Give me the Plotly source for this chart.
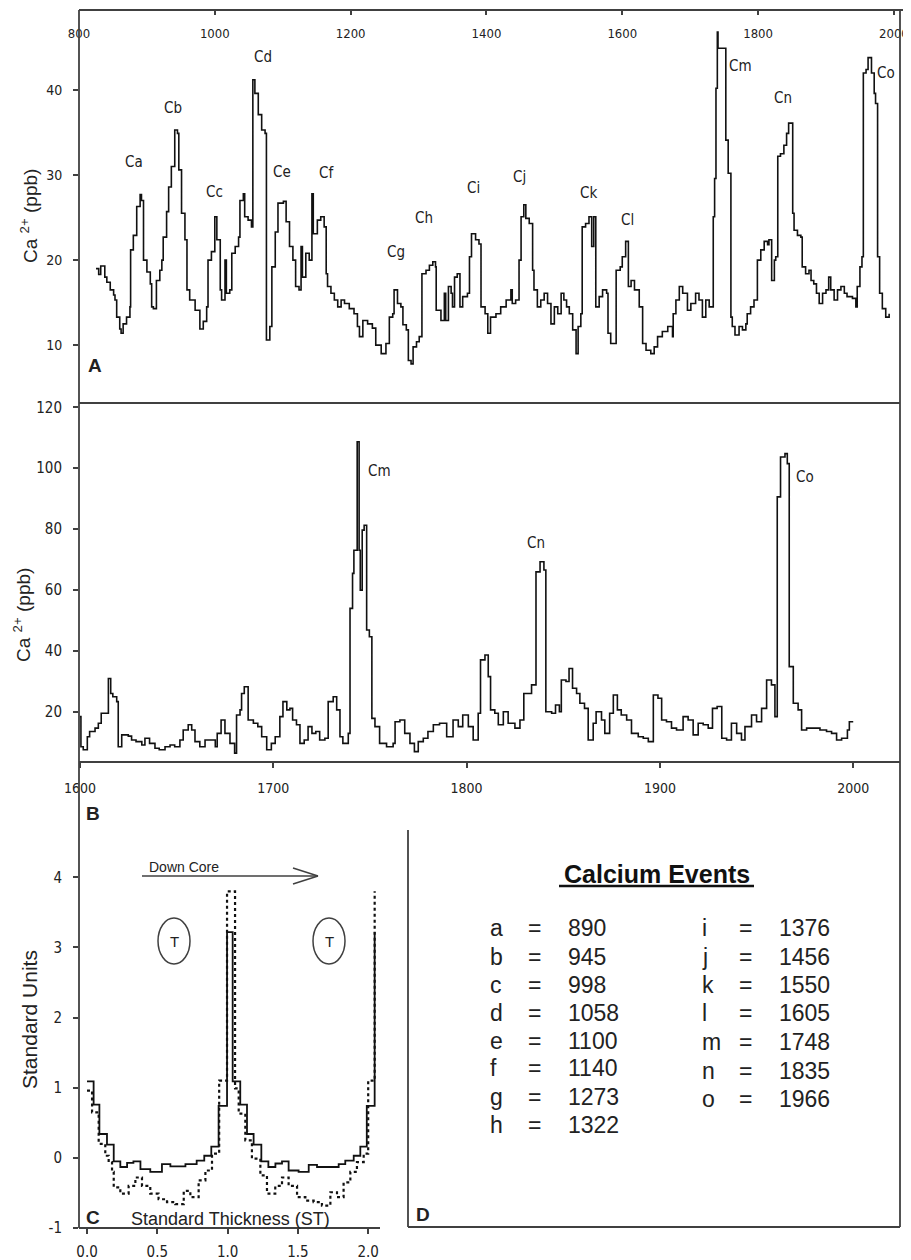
import plotly.graph_objects as go

# ---------------- Panel A data (year, Ca2+ ppb) ----------------
a_years = [825, 829, 832, 838, 841, 846, 851, 853, 855.5, 860, 862, 865, 870, 875, 876, 880, 885, 890, 892, 895,
           900, 905, 907, 909.5, 914, 919, 922, 924, 929, 932, 936, 941, 945, 947, 951, 956, 959, 963, 971, 978,
           983, 988, 990, 995, 1000, 1003, 1008, 1010, 1015, 1017, 1022, 1025, 1030, 1035, 1037, 1042, 1044, 1049,
           1054, 1056, 1059, 1064, 1069, 1074, 1076, 1081, 1084, 1089, 1093, 1101, 1105, 1110, 1115, 1119, 1124,
           1127, 1129, 1134, 1139, 1143, 1145, 1151, 1156, 1161, 1164, 1166, 1171, 1176, 1181, 1186, 1191, 1198,
           1205, 1210, 1213, 1218, 1225, 1232, 1237, 1245, 1252, 1257, 1262, 1264, 1269, 1274, 1277, 1282, 1285,
           1289, 1292, 1297, 1301, 1305, 1311, 1316, 1321, 1325, 1326, 1333, 1338, 1340, 1344, 1348, 1350, 1353,
           1357, 1361, 1365, 1372, 1375, 1378, 1384, 1389, 1392, 1398, 1402, 1406, 1414, 1421, 1429, 1436, 1438,
           1443, 1448, 1451, 1455, 1458, 1463, 1468, 1470, 1475, 1480, 1485, 1490, 1495, 1500, 1505, 1510, 1514,
           1518, 1522, 1527, 1532, 1535, 1539, 1541, 1546, 1551, 1555, 1558, 1561, 1566, 1571, 1577, 1579, 1583,
           1591, 1597, 1600, 1605, 1609, 1613, 1618, 1625, 1630, 1635, 1642, 1647, 1652, 1659, 1667, 1674, 1675,
           1679, 1684, 1689, 1696, 1701, 1708, 1713, 1718, 1723, 1728, 1733, 1734, 1736, 1738, 1740, 1741, 1744,
           1752.5, 1756, 1760, 1762, 1766, 1772, 1777, 1782, 1784, 1789, 1794, 1799, 1804, 1809, 1814, 1816, 1820,
           1824, 1826, 1829, 1833, 1838, 1842, 1845, 1851, 1853, 1858, 1863, 1865, 1870, 1875, 1878, 1882, 1886,
           1890, 1895, 1900, 1904, 1907, 1912, 1917, 1922, 1927, 1931, 1939, 1944, 1946, 1950, 1953, 1955, 1959,
           1962, 1967, 1971, 1973, 1976, 1979, 1983, 1988, 1993]
a_values = [19.0, 18.3, 19.3, 18.0, 17.4, 16.5, 15.9, 15.3, 13.3, 11.9, 11.4, 12.5, 13.3, 14.5, 21.2, 22.9, 26.3, 27.7, 27.0, 20.0,
            18.6, 17.2, 14.5, 14.3, 17.6, 18.8, 20.0, 22.7, 25.7, 28.6, 31.0, 35.3, 34.9, 30.6, 25.5, 22.4, 16.5, 15.3, 14.1, 11.9,
            12.8, 14.5, 20.0, 21.0, 25.1, 22.4, 16.5, 15.3, 20.0, 16.1, 16.5, 20.8, 21.6, 22.7, 27.0, 27.8, 25.1, 24.7,
            23.9, 41.2, 39.6, 37.1, 35.3, 34.9, 10.6, 12.2, 19.2, 23.3, 26.7, 26.9, 24.5, 21.6, 20.0, 16.9, 16.5,
            21.6, 18.0, 20.8, 20.0, 27.8, 23.1, 24.7, 25.1, 23.9, 18.4, 16.9, 16.1, 15.3, 14.5, 15.3, 14.9, 14.3,
            13.7, 12.2, 11.0, 12.9, 12.5, 12.0, 10.0, 9.0, 10.2, 13.3, 13.7, 16.5, 14.9, 14.5, 12.4, 11.8, 8.2,
            7.8, 9.8, 10.4, 11.0, 18.4, 18.8, 19.4, 19.8, 19.2, 14.1, 12.9, 16.1, 12.9, 16.9, 16.1, 14.5, 18.0,
            18.4, 14.5, 15.7, 16.1, 20.4, 23.1, 22.4, 21.9, 14.5, 13.7, 11.4, 13.3, 13.7, 14.5, 15.3, 16.5, 14.9,
            15.3, 20.0, 25.1, 26.5, 24.9, 24.3, 18.8, 16.5, 14.5, 15.3, 16.1, 14.9, 12.5, 14.5, 13.7, 16.1, 15.3,
            14.5, 13.7, 11.8, 9.0, 12.2, 13.7, 23.9, 24.3, 25.1, 21.6, 25.1, 14.5, 15.7, 16.5, 16.1, 11.4, 10.2,
            18.8, 19.2, 20.4, 22.2, 16.9, 17.6, 16.5, 14.5, 10.2, 9.4, 9.0, 9.8, 11.0, 11.6, 12.2, 11.0, 13.7,
            15.3, 16.9, 16.1, 14.1, 14.9, 16.1, 15.3, 13.3, 15.3, 14.5, 14.5, 25.1, 29.6, 40.2, 46.8, 44.9, 44.9,
            34.1, 30.2, 13.3, 12.2, 11.2, 12.2, 11.8, 12.5, 13.7, 14.5, 15.3, 20.0, 21.2, 22.2, 21.8, 22.4, 17.6,
            20.0, 20.4, 32.2, 32.5, 33.5, 34.9, 36.1, 25.5, 23.5, 22.9, 22.7, 19.2, 18.4, 18.8, 17.6, 17.2, 16.1,
            14.9, 16.1, 16.5, 18.0, 16.5, 15.3, 16.5, 16.9, 16.1, 15.7, 15.5, 14.5, 16.9, 19.2, 20.4, 42.0, 42.4,
            43.8, 42.0, 39.6, 38.4, 20.4, 16.1, 14.3, 13.3, 13.7]

a_label_text = ["Ca", "Cb", "Cc", "Cd", "Ce", "Cf", "Cg", "Ch", "Ci", "Cj", "Ck", "Cl", "Cm", "Cn", "Co"]
a_label_x = [881, 938, 999, 1071, 1099, 1165, 1267, 1308, 1381, 1449, 1551, 1607, 1774, 1836, 1988]
a_label_y = [31.5, 37.9, 28.0, 43.9, 30.4, 30.2, 20.9, 24.9, 28.5, 29.8, 27.9, 24.7, 42.8, 39.1, 42.0]
a_xticks = [800, 1000, 1200, 1400, 1600, 1800, 2000]
a_yticks = [10, 20, 30, 40]

# ---------------- Panel B data ----------------
b_years = [1600, 1600.5, 1601.7, 1603.8, 1605, 1607.8, 1609.5, 1611, 1614.7, 1615.9, 1617, 1619, 1619.8, 1621.6,
           1625, 1626.7, 1629, 1632, 1633.6, 1636, 1638.8, 1641, 1644, 1646.6, 1649, 1651.7, 1653.4, 1656, 1657.8,
           1659.5, 1662, 1664.7, 1670, 1671, 1673, 1675, 1677.6, 1680, 1681, 1682.8, 1683.6, 1685, 1687, 1689.7,
           1692, 1694, 1696.6, 1699, 1701, 1703.4, 1705, 1707, 1708.6, 1710, 1712, 1713.8, 1716, 1718, 1720, 1722,
           1724, 1726.7, 1728.4, 1731, 1732.8, 1734.5, 1736, 1738.8, 1739.7, 1741, 1741.7, 1743.4, 1744.4, 1745,
           1746, 1747, 1748.3, 1749.7, 1751, 1752.6, 1755, 1758.6, 1762, 1763, 1765.5, 1768, 1770.7, 1773, 1775,
           1777.6, 1780, 1782.8, 1786, 1789.7, 1793, 1795.7, 1798, 1800.9, 1803.4, 1806, 1807.2, 1809.5, 1811.2,
           1812.4, 1814.6, 1816.4, 1819, 1821.5, 1825, 1827.6, 1829.6, 1833.6, 1835.9, 1838, 1840, 1841, 1844,
           1846, 1848, 1849, 1851.4, 1853, 1854.8, 1856.9, 1858.6, 1861, 1862.9, 1865.5, 1867, 1869.8, 1871.5,
           1874, 1875.9, 1878, 1880, 1882.8, 1885.3, 1888.8, 1891.4, 1894, 1896.6, 1899, 1900.9, 1903.4, 1906,
           1908.6, 1912, 1914.6, 1917.2, 1919.8, 1922.4, 1925, 1927.2, 1929.6, 1932, 1934.5, 1937, 1939.7, 1942.2,
           1944, 1947.4, 1950, 1952.6, 1955.2, 1957.7, 1959.5, 1960.7, 1962.4, 1964.7, 1965.9, 1966.9, 1969,
           1971.5, 1973.3, 1975.9, 1979.3, 1982.8, 1986.2, 1988.8, 1991.4, 1994, 1997, 1998, 2000]
b_values = [18.5, 8.6, 7.6, 11.9, 13.6, 14.7, 16.3, 19.6, 31.0, 26.1, 25.0, 23.4, 8.6, 12.5,
            12.1, 10.8, 10.3, 9.2, 11.4, 9.7, 8.1, 7.6, 8.6, 9.2, 8.6, 10.8, 14.1, 15.8, 14.1,
            10.3, 8.6, 10.8, 8.6, 13.0, 17.4, 13.0, 9.7, 6.5, 19.0, 20.7, 26.1, 28.3, 17.4, 16.3,
            15.2, 11.9, 7.6, 9.7, 11.9, 18.5, 23.4, 20.7, 21.2, 17.4, 15.8, 9.7, 10.8, 15.2, 13.0, 13.6,
            10.8, 11.4, 23.4, 25.0, 20.7, 11.9, 9.7, 13.0, 54.0, 65.5, 73.1, 108.7, 73.1, 60.0,
            79.7, 81.3, 46.9, 44.7, 17.9, 15.2, 9.7, 8.6, 9.7, 16.8, 17.4, 13.0, 9.7, 7.0, 10.3,
            11.4, 13.6, 15.8, 16.3, 11.9, 17.4, 15.2, 19.0, 15.2, 10.8, 19.6, 37.1, 38.7, 31.6,
            20.7, 19.6, 15.8, 20.1, 16.3, 14.7, 17.4, 26.1, 28.9, 66.0, 69.3, 66.6, 20.1, 19.6,
            22.3, 20.1, 30.5, 30.0, 34.3, 27.8, 26.1, 22.9, 21.2, 10.8, 16.3, 20.1, 17.4, 13.0,
            19.6, 25.6, 20.7, 19.0, 17.4, 13.0, 11.9, 11.4, 10.3, 25.6, 24.5, 17.4, 16.8, 14.7,
            14.1, 18.5, 17.4, 12.5, 16.3, 15.8, 14.7, 21.2, 21.8, 11.4, 10.8, 16.3, 13.0, 10.8,
            15.2, 19.0, 16.8, 21.2, 30.5, 28.9, 18.5, 90.6, 103.7, 104.8, 101.5, 34.9, 22.9,
            20.7, 14.1, 14.7, 14.7, 14.1, 13.6, 13.0, 10.8, 11.4, 14.1, 16.8, 16.8]
b_label_text = ["Cm", "Cn", "Co"]
b_label_x = [1755, 1836, 1975]
b_label_y = [99, 75.3, 97]
b_xticks = [1600, 1700, 1800, 1900, 2000]
b_yticks = [20, 40, 60, 80, 100, 120]

# ---------------- Panel C data (standard thickness, standard units) ----------------
c_solid_x = [0.0, 0.047, 0.088, 0.142, 0.19, 0.237, 0.285, 0.33, 0.38, 0.45, 0.533, 0.593, 0.70, 0.78, 0.834,
             0.884, 0.936, 0.996, 1.036, 1.09, 1.138, 1.185, 1.24, 1.29, 1.34, 1.387, 1.434, 1.505, 1.577, 1.636,
             1.79, 1.837, 1.897, 1.944, 1.99, 2.046]
c_solid_y = [1.09, 0.76, 0.34, 0.19, -0.05, -0.13, -0.07, -0.05, -0.16, -0.2, -0.09, -0.12, -0.09, -0.04, 0.03,
             0.16, 0.74, 3.22, 1.09, 0.76, 0.34, 0.19, -0.05, -0.13, -0.08, -0.05, -0.18, -0.2, -0.1, -0.13,
             -0.09, -0.04, 0.03, 0.16, 0.74, 3.22]
c_dot_x = [0.0, 0.036, 0.083, 0.130, 0.154, 0.178, 0.19, 0.237, 0.296, 0.344, 0.391, 0.45, 0.509, 0.569, 0.628,
           0.688, 0.735, 0.794, 0.842, 0.889, 0.94, 0.996, 1.053, 1.079, 1.126, 1.173, 1.233, 1.28, 1.339, 1.387,
           1.434, 1.494, 1.553, 1.612, 1.671, 1.731, 1.778, 1.825, 1.873, 1.92, 1.968, 2.0, 2.046]
c_dot_y = [0.96, 0.65, 0.2, 0.03, -0.06, -0.2, -0.42, -0.51, -0.4, -0.28, -0.4, -0.51, -0.59, -0.63, -0.66,
           -0.47, -0.56, -0.32, -0.18, 0.06, 1.1, 3.8, 0.99, 0.63, 0.25, -0.01, -0.25, -0.51, -0.4, -0.28,
           -0.4, -0.56, -0.61, -0.63, -0.68, -0.49, -0.56, -0.35, -0.2, -0.06, 0.06, 1.1, 3.8]
c_xticks = [0, 0.5, 1.0, 1.5, 2.0]
c_xticktext = ["0.0", "0.5", "1.0", "1.5", "2.0"]
c_yticks = [-1, 0, 1, 2, 3, 4]
c_yticktext = ["-1", "0", "1", "2", "3", "4"]

# ---------------- Panel D table ----------------
d_letters_left = ["a", "b", "c", "d", "e", "f", "g", "h"]
d_years_left = [890, 945, 998, 1058, 1100, 1140, 1273, 1322]
d_letters_right = ["i", "j", "k", "l", "m", "n", "o"]
d_years_right = [1376, 1456, 1550, 1605, 1748, 1835, 1966]

# ---------------- Figure ----------------
# the page body has an 8px margin, so the figure is laid out 8px smaller and positions are offset by 8px
OFF = 8
W, H = 911 - OFF, 1260 - OFF
def PX(px):
    return (px - OFF) / W
def PY(py):
    return 1 - (py - OFF) / H

INK = "#111111"
AX = "#404040"
NARROW = "Liberation Sans Narrow, Arial Narrow, DejaVu Sans Condensed, Liberation Sans, Arial"
SANS = "Liberation Sans, Arial, Helvetica, sans-serif"

fig = go.Figure()
fig.add_trace(go.Scatter(x=a_years, y=a_values, mode="lines", line=dict(color=INK, width=1.6, shape="hv"),
                         xaxis="x", yaxis="y", hoverinfo="skip"))
fig.add_trace(go.Scatter(x=b_years, y=b_values, mode="lines", line=dict(color=INK, width=1.6, shape="hv"),
                         xaxis="x2", yaxis="y2", hoverinfo="skip"))
fig.add_trace(go.Scatter(x=c_solid_x, y=c_solid_y, mode="lines", line=dict(color=INK, width=1.8, shape="hv"),
                         xaxis="x3", yaxis="y3", hoverinfo="skip"))
fig.add_trace(go.Scatter(x=c_dot_x, y=c_dot_y, mode="lines",
                         line=dict(color=INK, width=2.2, shape="hv", dash="dot"),
                         xaxis="x3", yaxis="y3", hoverinfo="skip"))

tickfont_a = dict(family=NARROW, size=13, color="#222")
common = dict(showgrid=False, zeroline=False, showline=False, tickcolor=AX, tickwidth=1.5, ticklen=5,
              automargin=False)

fig.update_layout(
    width=W, height=H, margin=dict(l=0, r=0, t=0, b=0, pad=0, autoexpand=False),
    paper_bgcolor="white", plot_bgcolor="white", showlegend=False,
    xaxis=dict(domain=[PX(79), PX(900)], range=[800, 2009], anchor="y", side="top",
               tickvals=a_xticks, ticks="inside", ticklabelposition="inside", ticklabeloverflow="allow",
               ticklabelstandoff=14, tickfont=tickfont_a, **common),
    yaxis=dict(domain=[PY(403), PY(10)], range=[3.2, 49.4], anchor="x",
               tickvals=a_yticks, ticks="outside", ticklabelstandoff=8,
               tickfont=dict(family=NARROW, size=14, color="#222"), **common),
    xaxis2=dict(domain=[PX(79), PX(900)], range=[1599.5, 2024.2], anchor="y2",
                tickvals=b_xticks, ticks="outside", ticklabelstandoff=8,
                tickfont=dict(family=NARROW, size=14, color="#222"), **common),
    yaxis2=dict(domain=[PY(762), PY(403)], range=[3.6, 121.4], anchor="x2",
                tickvals=b_yticks, ticks="outside", ticklabelstandoff=8,
                tickfont=dict(family=NARROW, size=15, color="#222"), **common),
    xaxis3=dict(domain=[PX(79), PX(380)], range=[-0.057, 2.084], anchor="y3",
                tickvals=c_xticks, ticktext=c_xticktext, ticks="outside", ticklabelstandoff=5,
                tickfont=dict(family=NARROW, size=15, color="#222"), **common),
    yaxis3=dict(domain=[PY(1228), PY(810)], range=[-1, 4.96], anchor="x3",
                tickvals=c_yticks, ticktext=c_yticktext, ticks="outside", ticklabelstandoff=8,
                tickfont=dict(family=NARROW, size=15, color="#222"), **common),
)

# frame lines (paper coordinates)
def hline(y, x0, x1, w=1.8, color=AX):
    fig.add_shape(type="line", xref="paper", yref="paper", x0=PX(x0), x1=PX(x1), y0=PY(y), y1=PY(y),
                  line=dict(color=color, width=w))
def vline(x, y0, y1, w=1.8, color=AX):
    fig.add_shape(type="line", xref="paper", yref="paper", x0=PX(x), x1=PX(x), y0=PY(y0), y1=PY(y1),
                  line=dict(color=color, width=w))

hline(10, 79, 908)
vline(79, 10, 1228)
vline(900, 10, 1227)
hline(403, 79, 900)
hline(762, 79, 900)
hline(1228, 79, 380)
vline(408, 830, 1227)
hline(1227, 408, 900)

# Panel A/B peak labels
for t, x, y in zip(a_label_text, a_label_x, a_label_y):
    fig.add_annotation(x=x, y=y, xref="x", yref="y", text=t, showarrow=False,
                       font=dict(family=NARROW, size=15, color="#222"))
for t, x, y in zip(b_label_text, b_label_x, b_label_y):
    fig.add_annotation(x=x, y=y, xref="x2", yref="y2", text=t, showarrow=False,
                       font=dict(family=NARROW, size=15, color="#222"))

def ptext(px, py, text, size, bold=False, family=SANS, angle=0, xanchor="center", color="#222"):
    fig.add_annotation(x=PX(px), y=PY(py), xref="paper", yref="paper", text=(f"<b>{text}</b>" if bold else text),
                       showarrow=False, textangle=angle, xanchor=xanchor, yanchor="middle",
                       font=dict(family=family, size=size, color=color))

# axis titles
ptext(29, 216, "Ca <sup>2+</sup> (ppb)", 19, angle=-90)
ptext(22, 615, "Ca <sup>2+</sup> (ppb)", 19, angle=-90)
ptext(30, 1020, "Standard Units", 21, angle=-90)
ptext(230, 1219, "Standard Thickness (ST)", 18)

# panel letters
ptext(95, 365, "A", 19, bold=True)
ptext(93, 813, "B", 19, bold=True)
ptext(93, 1217, "C", 19, bold=True)
ptext(423, 1214, "D", 19, bold=True)

# Panel C decorations: Down Core arrow and T ellipses
ptext(184, 867, "Down Core", 14)
hline(876, 142, 318, w=1.5)
fig.add_shape(type="line", xref="paper", yref="paper", x0=PX(293), y0=PY(868), x1=PX(318), y1=PY(876),
              line=dict(color=AX, width=1.5))
fig.add_shape(type="line", xref="paper", yref="paper", x0=PX(293), y0=PY(884), x1=PX(318), y1=PY(876),
              line=dict(color=AX, width=1.5))
for cx in (174, 329):
    fig.add_shape(type="circle", xref="paper", yref="paper", x0=PX(cx - 16), x1=PX(cx + 16),
                  y0=PY(918), y1=PY(964), line=dict(color=AX, width=1.5))
    ptext(cx, 941, "T", 15)

# Panel D table
ptext(657, 874, "Calcium Events", 25, bold=True, color="#111")
hline(886, 559, 754, w=2.5, color="#111")
left_rows_y = [928, 957, 985, 1013, 1041, 1068, 1097, 1125]
right_rows_y = [928, 957, 985, 1013, 1042, 1071, 1099]
for L, yv, ry in zip(d_letters_left, d_years_left, left_rows_y):
    ptext(488, ry, L, 23, xanchor="left")
    ptext(534, ry, "=", 23)
    ptext(566, ry, str(yv), 23, xanchor="left")
for L, yv, ry in zip(d_letters_right, d_years_right, right_rows_y):
    ptext(700, ry, L, 23, xanchor="left")
    ptext(745, ry, "=", 23)
    ptext(777, ry, str(yv), 23, xanchor="left")

fig.write_html("out.html")
